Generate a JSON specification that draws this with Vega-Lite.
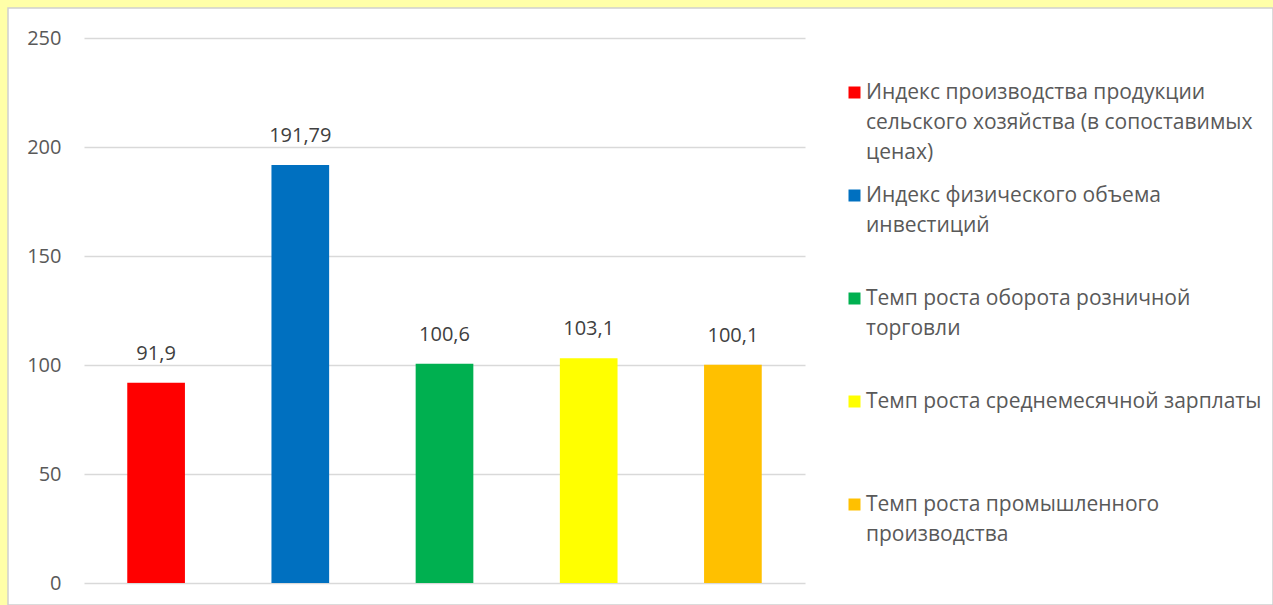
{
  "$schema": "https://vega.github.io/schema/vega-lite/v6.json",
  "width": 1265,
  "height": 597,
  "autosize": {"type": "none"},
  "padding": {"left": 8, "top": 8, "right": 0, "bottom": 0},
  "background": "#ffffa8",
  "config": {
    "view": {"fill": "white", "stroke": "#d0d0d0", "strokeWidth": 1.5},
    "font": "Open Sans",
    "locale": {"number": {"decimal": ",", "thousands": " ", "grouping": [3], "currency": ["", ""]}},
    "style": {"guide-label": {"lineHeight": 30}}
  },
  "data": {
    "values": [
      {"indicator": "Индекс производства продукции\nсельского хозяйства (в сопоставимых\nценах)", "value": 91.9},
      {"indicator": "Индекс физического объема\nинвестиций", "value": 191.79},
      {"indicator": "Темп роста оборота розничной\nторговли", "value": 100.6},
      {"indicator": "Темп роста среднемесячной зарплаты", "value": 103.1},
      {"indicator": "Темп роста промышленного\nпроизводства", "value": 100.1}
    ]
  },
  "encoding": {
    "x": {
      "field": "indicator",
      "type": "nominal",
      "sort": null,
      "axis": null,
      "scale": {"range": [76, 797], "paddingInner": 0, "paddingOuter": 0}
    },
    "y": {
      "field": "value",
      "type": "quantitative",
      "scale": {"domain": [0, 250], "range": [575, 30], "nice": false, "zero": true},
      "axis": {
        "title": null,
        "values": [0, 50, 100, 150, 200, 250],
        "domain": false,
        "ticks": false,
        "grid": true,
        "gridColor": "#d9d9d9",
        "gridWidth": 1.5,
        "labelFontSize": 20,
        "labelColor": "#595959",
        "labelPadding": 0,
        "offset": -53
      }
    }
  },
  "layer": [
    {
      "mark": {"type": "bar", "width": {"band": 0.4}},
      "encoding": {
        "color": {
          "field": "indicator",
          "type": "nominal",
          "sort": null,
          "scale": {"range": ["#ff0000", "#0070c0", "#00b050", "#ffff00", "#ffc000"]},
          "legend": {
            "orient": "none",
            "legendX": 836,
            "legendY": 74,
            "title": null,
            "padding": 0,
            "symbolType": "square",
            "symbolSize": 144,
            "symbolStrokeWidth": 0,
            "labelFontSize": 21,
            "labelColor": "#595959",
            "labelLimit": 0,
            "labelOffset": 1,
            "labelBaseline": "middle",
            "rowPadding": 21,
            "labelExpr": "slice(split(datum.value + '\\n\\n', '\\n'), 0, 3)"
          }
        }
      }
    },
    {
      "mark": {"type": "text", "baseline": "alphabetic", "dy": -23, "fontSize": 20, "color": "#404040"},
      "encoding": {
        "text": {"field": "value", "type": "quantitative", "format": "~g"}
      }
    }
  ]
}
